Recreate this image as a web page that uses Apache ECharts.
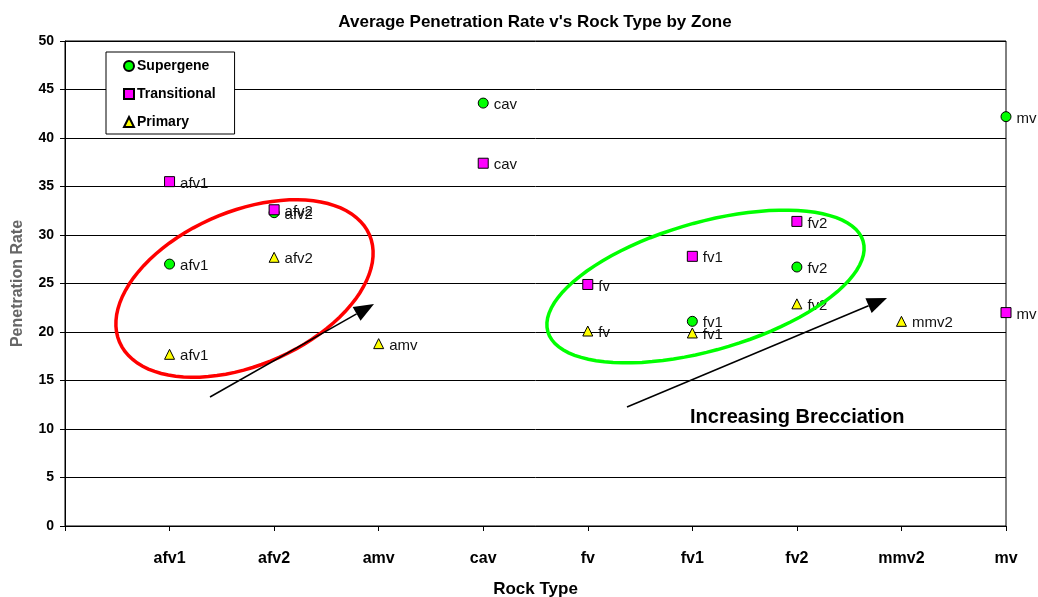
<!DOCTYPE html>
<html>
<head>
<meta charset="utf-8">
<script src="https://cdn.jsdelivr.net/npm/echarts@6/dist/echarts.min.js"></script>
<style>
  html, body { margin: 0; padding: 0; background: #fff; }
  #chart { width: 1038px; height: 597px; }
</style>
</head>
<body>
<div id="chart"></div>
<script>
// Rock types along the x axis (positions 1..9)
const rockTypes = ['afv1', 'afv2', 'amv', 'cav', 'fv', 'fv1', 'fv2', 'mmv2', 'mv'];

// Average penetration rate per rock type; null where a zone has no samples
const supergene    = [27.0, 32.3, null, 43.6, null, 21.1, 26.7, null, 42.2];
const transitional = [35.5, 32.6, null, 37.4, 24.9, 27.8, 31.4, null, 22.0];
const primary      = [17.7, 27.7, 18.8, null, 20.1, 19.9, 22.9, 21.1, null];

const yTicks = [0, 5, 10, 15, 20, 25, 30, 35, 40, 45, 50];

const FONT = '"Liberation Sans", Arial, sans-serif';

function toPoints(values) {
  const pts = [];
  values.forEach((v, i) => { if (v !== null) pts.push([i + 1, v]); });
  return pts;
}

function scatter(name, values, symbol, color, size) {
  return {
    name: name,
    type: 'scatter',
    symbol: symbol,
    symbolSize: size,
    data: toPoints(values),
    itemStyle: { color: color, borderColor: '#000', borderWidth: 1, opacity: 1 },
    label: {
      show: true,
      position: 'right',
      distance: 5,
      offset: [0, 2],
      color: '#111',
      fontFamily: FONT,
      fontSize: 15,
      formatter: p => rockTypes[p.value[0] - 1]
    },
    emphasis: { disabled: true },
    animation: false
  };
}

// Outline of a rotated ellipse used to group related samples
function ellipsePoints(cx, cy, a, b, deg) {
  const t = deg * Math.PI / 180, pts = [];
  for (let k = 0; k < 90; k++) {
    const u = k / 90 * 2 * Math.PI;
    const x = a * Math.cos(u), y = b * Math.sin(u);
    pts.push([cx + x * Math.cos(t) - y * Math.sin(t), cy + x * Math.sin(t) + y * Math.cos(t)]);
  }
  return pts;
}

// Straight arrow with a filled triangular head
function arrow(x1, y1, x2, y2) {
  const ang = Math.atan2(y2 - y1, x2 - x1), L = 20, W = 8;
  const bx = x2 - L * Math.cos(ang), by = y2 - L * Math.sin(ang);
  const nx = -Math.sin(ang), ny = Math.cos(ang);
  return [
    { type: 'line', shape: { x1: x1, y1: y1, x2: bx, y2: by }, style: { stroke: '#000', lineWidth: 1.5 }, z: 100 },
    { type: 'polygon', shape: { points: [[x2, y2], [bx + nx * W, by + ny * W], [bx - nx * W, by - ny * W]] }, style: { fill: '#000' }, z: 100 }
  ];
}

const chart = echarts.init(document.getElementById('chart'), null, { renderer: 'canvas' });

chart.setOption({
  backgroundColor: '#fff',
  animation: false,
  title: {
    text: "Average Penetration Rate v's Rock Type by Zone",
    left: 530, top: 9,
    textAlign: 'center',
    textStyle: { fontFamily: FONT, fontSize: 17, fontWeight: 'bold', color: '#000' }
  },
  grid: {
    left: 65, right: 32, top: 41, bottom: 71,
    containLabel: false, outerBoundsMode: 'none',
    show: true, borderColor: '#000', borderWidth: 1, backgroundColor: 'transparent'
  },
  legend: {
    orient: 'vertical',
    left: 106, top: 52,
    padding: [6, 19, 4, 17],
    itemGap: 12,
    itemWidth: 10, itemHeight: 10,
    backgroundColor: '#fff',
    borderColor: '#000', borderWidth: 1,
    textStyle: { fontFamily: FONT, fontSize: 14, fontWeight: 'bold', color: '#000', lineHeight: 15, padding: [1, 0, 0, -2] },
    data: ['Supergene', 'Transitional', 'Primary']
  },
  xAxis: {
    type: 'value',
    min: 0, max: 9, interval: 1,
    name: 'Rock Type',
    nameLocation: 'middle',
    nameGap: 55,
    nameTextStyle: { fontFamily: FONT, fontSize: 17, fontWeight: 'bold', color: '#000' },
    axisLine: { show: true, lineStyle: { color: '#000', width: 1 } },
    axisTick: { show: true, inside: false, length: 5, lineStyle: { color: '#000' } },
    axisLabel: {
      margin: 25,
      fontFamily: FONT, fontSize: 16, fontWeight: 'bold', color: '#000',
      formatter: v => (v >= 1 && v <= rockTypes.length) ? rockTypes[v - 1] : ''
    },
    splitLine: { show: false }
  },
  yAxis: {
    type: 'value',
    min: yTicks[0], max: yTicks[yTicks.length - 1], interval: 5,
    name: 'Penetration Rate',
    nameLocation: 'middle',
    nameGap: 39,
    nameTextStyle: { fontFamily: FONT, fontSize: 16, fontWeight: 'bold', color: '#666' },
    axisLine: { show: true, lineStyle: { color: '#000', width: 1 } },
    axisTick: { show: true, inside: false, length: 5, lineStyle: { color: '#000' } },
    axisLabel: { margin: 11, fontFamily: FONT, fontSize: 14, fontWeight: 'bold', color: '#000' },
    splitLine: { show: true, lineStyle: { color: '#000', width: 1 } }
  },
  series: [
    scatter('Supergene', supergene, 'circle', '#00FF00', 10),
    scatter('Transitional', transitional, 'rect', '#FF00FF', 10),
    scatter('Primary', primary, 'triangle', '#FFFF00', 10)
  ],
  graphic: [
    { type: 'polygon', shape: { points: ellipsePoints(244.5, 288.5, 136, 77, -23.2) },
      style: { fill: 'none', stroke: '#FF0000', lineWidth: 3.5 }, z: 90 },
    { type: 'polygon', shape: { points: ellipsePoints(705.5, 286.5, 164, 64, -16) },
      style: { fill: 'none', stroke: '#00FF00', lineWidth: 3.5 }, z: 90 },
    ...arrow(210, 397, 374, 304),
    ...arrow(627, 407, 887, 298),
    { type: 'text', left: 690, top: 407, z: 100,
      style: { text: 'Increasing Brecciation', fontFamily: FONT, fontSize: 20, fontWeight: 'bold', fill: '#000' } }
  ]
});
</script>
</body>
</html>
